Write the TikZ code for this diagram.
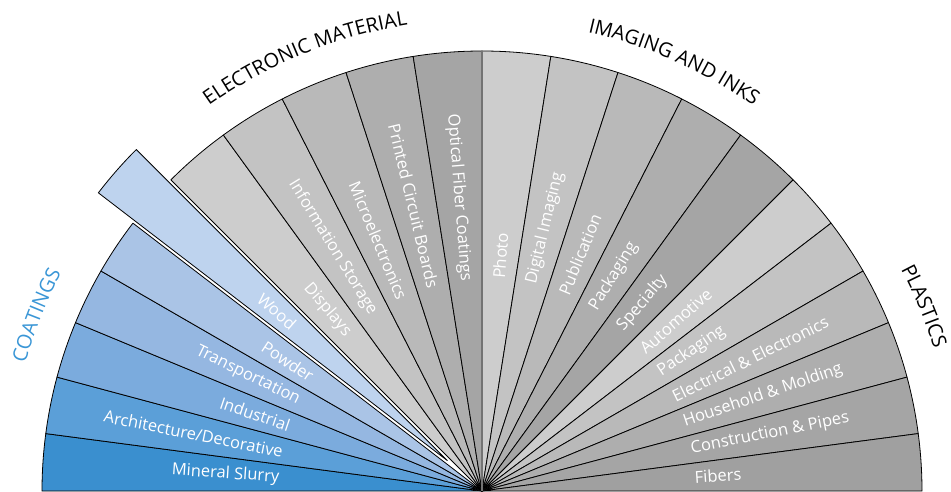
\documentclass[tikz,border=0pt]{standalone}
\usepackage{fontspec}
\setmainfont{Open Sans}
\usetikzlibrary{decorations.text}

\definecolor{coatA}{HTML}{3A8FCF}
\definecolor{coatB}{HTML}{5B9FD8}
\definecolor{coatC}{HTML}{7BABDD}
\definecolor{coatD}{HTML}{95B7E1}
\definecolor{coatE}{HTML}{AAC4E6}
\definecolor{coatF}{HTML}{BED3EE}
\definecolor{coatT}{HTML}{3A96D6}
\definecolor{grA}{HTML}{CDCDCD}
\definecolor{grB}{HTML}{C3C3C3}
\definecolor{grC}{HTML}{B9B9B9}
\definecolor{grD}{HTML}{AEAEAE}
\definecolor{grE}{HTML}{A5A5A5}
\definecolor{grF}{HTML}{A0A0A0}

\newcommand{\lblfont}{\fontsize{16.5}{16.5}\selectfont}
\newcommand{\ttlfont}{\fontsize{20}{20}\selectfont}

\tikzset{
  wedge/.style={draw=black, line width=0.8pt, line join=round},
  lbl/.style={white, inner sep=0pt, font=\lblfont},
  lblL/.style={lbl, anchor=east},
  lblR/.style={lbl, anchor=west},
  ttl/.style={decorate, decoration={text along path, text align=center, raise=0pt}}
}

\begin{document}
\begin{tikzpicture}[x=1pt, y=1pt]
\useasboundingbox (0,0) rectangle (951,491);
\coordinate (c) at (482,0);
\coordinate (w) at ([shift={(138.75:46)}]c);

% coatings
\draw[wedge, fill=coatA] (c) -- ++(180:440) arc[start angle=180, end angle=172.5, radius=440] -- cycle;
\draw[wedge, fill=coatB] (c) -- ++(172.5:440) arc[start angle=172.5, end angle=165, radius=440] -- cycle;
\draw[wedge, fill=coatC] (c) -- ++(165:440) arc[start angle=165, end angle=157.5, radius=440] -- cycle;
\draw[wedge, fill=coatD] (c) -- ++(157.5:440) arc[start angle=157.5, end angle=150, radius=440] -- cycle;
\draw[wedge, fill=coatE] (c) -- ++(150:440) arc[start angle=150, end angle=142.5, radius=440] -- cycle;
\draw[wedge, fill=coatF] (w) -- ++(142.5:440) arc[start angle=142.5, end angle=135, radius=440] -- cycle;

% electronic material
\draw[wedge, fill=grA] (c) -- ++(135:440) arc[start angle=135, end angle=126, radius=440] -- cycle;
\draw[wedge, fill=grB] (c) -- ++(126:440) arc[start angle=126, end angle=117, radius=440] -- cycle;
\draw[wedge, fill=grC] (c) -- ++(117:440) arc[start angle=117, end angle=108, radius=440] -- cycle;
\draw[wedge, fill=grD] (c) -- ++(108:440) arc[start angle=108, end angle=99, radius=440] -- cycle;
\draw[wedge, fill=grE] (c) -- ++(99:440) arc[start angle=99, end angle=90, radius=440] -- cycle;

% imaging and inks
\draw[wedge, fill=grA] (c) -- ++(90:440) arc[start angle=90, end angle=81, radius=440] -- cycle;
\draw[wedge, fill=grB] (c) -- ++(81:440) arc[start angle=81, end angle=72, radius=440] -- cycle;
\draw[wedge, fill=grC] (c) -- ++(72:440) arc[start angle=72, end angle=63, radius=440] -- cycle;
\draw[wedge, fill=grD] (c) -- ++(63:440) arc[start angle=63, end angle=54, radius=440] -- cycle;
\draw[wedge, fill=grE] (c) -- ++(54:440) arc[start angle=54, end angle=45, radius=440] -- cycle;

% plastics
\draw[wedge, fill=grA] (c) -- ++(45:440) arc[start angle=45, end angle=37.5, radius=440] -- cycle;
\draw[wedge, fill=grB] (c) -- ++(37.5:440) arc[start angle=37.5, end angle=30, radius=440] -- cycle;
\draw[wedge, fill=grC] (c) -- ++(30:440) arc[start angle=30, end angle=22.5, radius=440] -- cycle;
\draw[wedge, fill=grD] (c) -- ++(22.5:440) arc[start angle=22.5, end angle=15, radius=440] -- cycle;
\draw[wedge, fill=grE] (c) -- ++(15:440) arc[start angle=15, end angle=7.5, radius=440] -- cycle;
\draw[wedge, fill=grF] (c) -- ++(7.5:440) arc[start angle=7.5, end angle=0, radius=440] -- cycle;
\draw[black!55, line width=1.6pt] (c) -- ++(90:440);

% labels
\node[lblL, rotate=-3.75] (slurry) at ([shift={(176.25:203)}]c) {Mineral Slurry};
\node[lblL, rotate=-11.25] (archi) at ([shift={(168.75:203)}]c) {Architecture/Decorative};
\node[lblL, rotate=-18.75] (indus) at ([shift={(161.25:203)}]c) {Industrial};
\node[lblL, rotate=-26.25] (transp) at ([shift={(153.75:204)}]c) {Transportation};
\node[lblL, rotate=-33.75] (powder) at ([shift={(146.25:204)}]c) {Powder};
\node[lblL, rotate=-41.25] (wood) at ([shift={(138.75:204)}]w) {Wood};
\node[lblL, rotate=-49.5] (displ) at ([shift={(130.5:206)}]c) {Displays};
\node[lblL, rotate=-58.5] (infost) at ([shift={(121.5:208)}]c) {Information Storage};
\node[lblL, rotate=-67.5] (micro) at ([shift={(112.5:208)}]c) {Microelectronics};
\node[lblL, rotate=-76.5] (pcb) at ([shift={(103.5:209)}]c) {Printed Circuit Boards};
\node[lblL, rotate=-85.5] (optic) at ([shift={(94.5:210)}]c) {Optical Fiber Coatings};
\node[lblR, rotate=85.5] (photo) at ([shift={(85.5:213)}]c) {Photo};
\node[lblR, rotate=76.5] (digim) at ([shift={(76.5:213)}]c) {Digital Imaging};
\node[lblR, rotate=67.5] (publ) at ([shift={(67.5:213)}]c) {Publication};
\node[lblR, rotate=58.5] (packim) at ([shift={(58.5:213)}]c) {Packaging};
\node[lblR, rotate=49.5] (spec) at ([shift={(49.5:213)}]c) {Specialty};
\node[lblR, rotate=41.25] (auto) at ([shift={(41.25:213)}]c) {Automotive};
\node[lblR, rotate=33.75] (packpl) at ([shift={(33.75:213)}]c) {Packaging};
\node[lblR, rotate=26.25] (elec) at ([shift={(26.25:213)}]c) {Electrical \& Electronics};
\node[lblR, rotate=18.75] (house) at ([shift={(18.75:213)}]c) {Household \& Molding};
\node[lblR, rotate=11.25] (constr) at ([shift={(11.25:213)}]c) {Construction \& Pipes};
\node[lblR, rotate=3.75] (fibers) at ([shift={(3.75:213)}]c) {Fibers};

% group titles
\path[ttl, decoration={text color=coatT, text={|\ttlfont|COATINGS}}]
  ([shift={(183.5:474)}]c) arc[start angle=183.5, end angle=133.5, radius=474];
\path[ttl, decoration={text={|\ttlfont|ELECTRONIC MATERIAL}}]
  ([shift={(137.2:472)}]c) arc[start angle=137.2, end angle=87.2, radius=472];
\path[ttl, decoration={text={|\ttlfont|IMAGING AND INKS}}]
  ([shift={(90.9:471)}]c) arc[start angle=90.9, end angle=40.9, radius=471];
\path[ttl, decoration={text={|\ttlfont|PLASTICS}}]
  ([shift={(47.7:474)}]c) arc[start angle=47.7, end angle=-2.3, radius=474];
\end{tikzpicture}
\end{document}
